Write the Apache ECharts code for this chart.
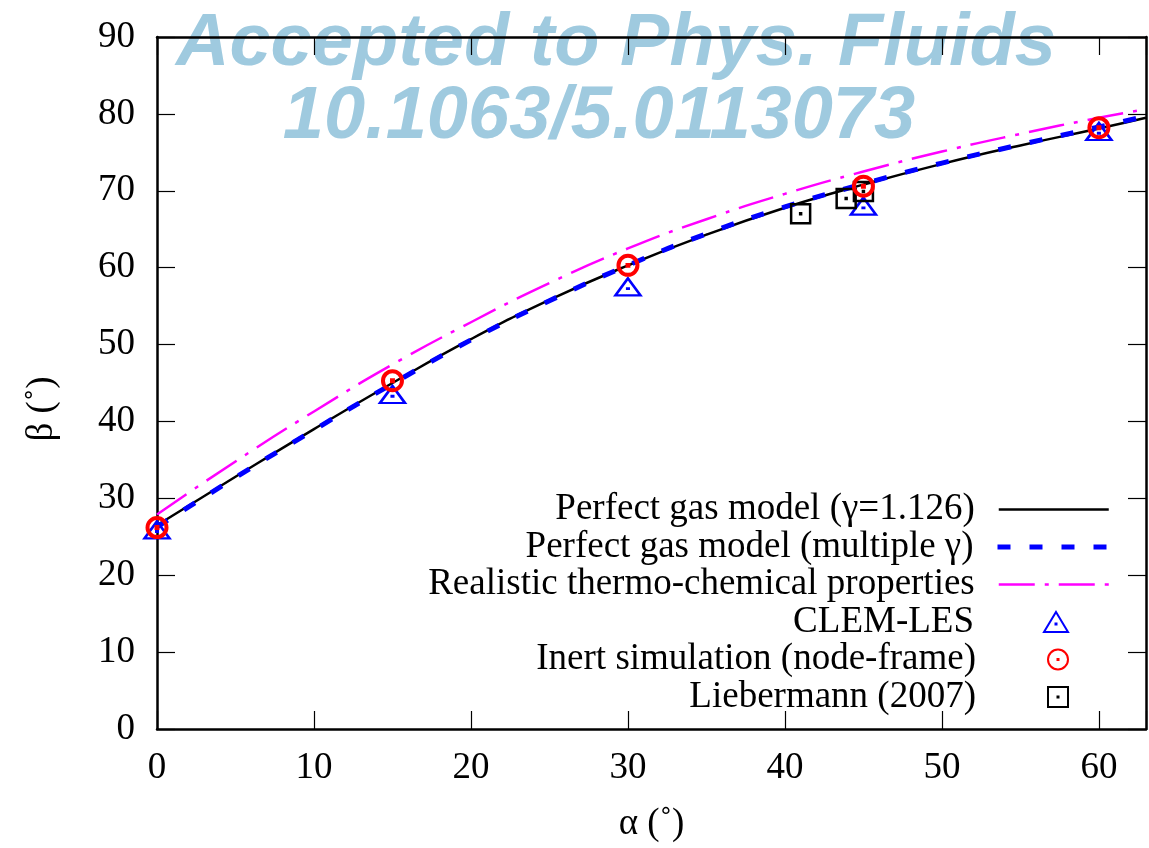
<!DOCTYPE html>
<html><head><meta charset="utf-8">
<script src="https://cdn.jsdelivr.net/npm/echarts@6/dist/echarts.min.js"></script>
<style>html,body{margin:0;padding:0;background:#fff}#c{width:1149px;height:848px}</style>
</head><body><div id="c"></div>
<script>
// ---- data ----
const curveAlpha = [0, 5, 10, 15, 20, 25, 30, 35, 40, 45, 50, 55, 60, 63];
const betaPerfectGamma = [26.5, 32.8, 39.0, 45.0, 50.7, 55.8, 60.3, 64.3, 67.8, 70.8, 73.5, 75.9, 78.1, 79.5];
const betaMultipleGamma = [26.3, 32.7, 38.9, 44.9, 50.6, 55.7, 60.3, 64.4, 67.9, 70.9, 73.6, 76.0, 78.3, 79.7];
const betaRealistic = [27.9, 34.8, 41.3, 47.4, 52.9, 58.0, 62.5, 66.3, 69.6, 72.5, 75.1, 77.4, 79.5, 80.6];
const simAlpha = [0, 15, 30, 45, 60];
const clemBeta = [25.9, 43.5, 57.5, 68.0, 77.7];
const inertBeta = [26.2, 45.3, 60.3, 70.6, 78.2];
const liebAlpha = [41, 43.9, 45];
const liebBeta = [67.0, 69.0, 69.9];
const seriesNames = ['Perfect gas model (\u03b3=1.126)', 'Perfect gas model (multiple \u03b3)',
  'Realistic thermo-chemical properties', 'CLEM-LES', 'Inert simulation (node-frame)', 'Liebermann (2007)'];
const xTitle = '\u03b1 (\u02da)';
const yTitle = '\u03b2 (\u02da)';
const watermark = ['Accepted to Phys. Fluids', '10.1063/5.0113073'];

// ---- helpers ----
const zip = (xs, ys) => xs.map((x, i) => [x, ys[i]]);
const serif = 'Liberation Serif';
const FS = 37;
const triPath = 'path://M12 0 L24 20 L0 20 Z M11.5 11.5 L12.5 11.5 L12.5 12.5 L11.5 12.5 Z';
const circPath = 'path://M10 0 A10 10 0 1 1 9.99 0 Z M9.5 9.5 L10.5 9.5 L10.5 10.5 L9.5 10.5 Z';
const sqPath = 'path://M0 0 L20 0 L20 20 L0 20 Z M9.5 9.5 L10.5 9.5 L10.5 10.5 L9.5 10.5 Z';

const lineStyles = [
  { color: '#000', width: 2.5, type: 'solid' },
  { color: '#0000ff', width: 5, type: [13, 19] },
  { color: '#ff00ff', width: 2.5, type: [36, 10, 4, 10] }
];

const rowCenters = [509, 546.5, 584, 621.5, 659, 696.5];
const legends = seriesNames.map((n, i) => {
  const isLine = i < 3;
  const lg = {
    data: [n], orient: 'vertical', align: 'right', padding: 0,
    right: isLine ? 39 : 80,
    top: rowCenters[i] - 18,
    itemWidth: isLine ? 110 : 28,
    itemHeight: isLine ? 14 : 20,
    selectedMode: false,
    textStyle: { fontFamily: serif, fontSize: FS, color: '#000', lineHeight: 36,
      padding: [0, isLine ? 19 : 63, 0, 0] }
  };
  if (isLine) {
    lg.itemStyle = { color: 'rgba(0,0,0,0)', borderWidth: 0, opacity: 0 };
    lg.lineStyle = { color: lineStyles[i].color, width: lineStyles[i].width, type: lineStyles[i].type, opacity: 1 };
  }
  return lg;
});

const tickStyle = { show: true, inside: true, length: 18, lineStyle: { color: '#000', width: 1.2 } };
const lineStyleAxis = { show: true, onZero: false, lineStyle: { color: '#000', width: 2.5 } };
const labelStyle = { fontFamily: serif, fontSize: FS, color: '#000' };
const wmFont = 'italic bold 74px "Liberation Sans"';

const chart = echarts.init(document.getElementById('c'), null, { renderer: 'canvas' });
chart.setOption({
  animation: false,
  backgroundColor: '#fff',
  grid: { left: 157, top: 37, right: -5, bottom: 118, containLabel: false },
  graphic: [
    { type: 'text', z: -10, style: { text: watermark[0], x: 616, y: 8, align: 'center', font: wmFont, fill: '#9fcadf' } },
    { type: 'text', z: -10, style: { text: watermark[1], x: 599, y: 81, align: 'center', font: wmFont, fill: '#9fcadf' } }
  ],
  legend: legends,
  xAxis: [
    { type: 'value', min: 0, max: 63, interval: 10, position: 'bottom',
      axisLine: lineStyleAxis, axisTick: tickStyle, splitLine: { show: false },
      axisLabel: Object.assign({ margin: 21, formatter: v => (v % 10 === 0 ? String(v) : '') }, labelStyle),
      name: xTitle, nameLocation: 'middle', nameGap: 77, nameTextStyle: labelStyle },
    { type: 'value', min: 0, max: 63, interval: 10, position: 'top',
      axisLine: lineStyleAxis, axisTick: tickStyle, splitLine: { show: false }, axisLabel: { show: false } }
  ],
  yAxis: [
    { type: 'value', min: 0, max: 90, interval: 10, position: 'left',
      axisLine: lineStyleAxis, axisTick: tickStyle, splitLine: { show: false },
      axisLabel: Object.assign({ margin: 22 }, labelStyle),
      name: yTitle, nameLocation: 'middle', nameGap: 96,
      nameTextStyle: Object.assign({ padding: [0, 52, 0, 0] }, labelStyle) },
    { type: 'value', min: 0, max: 90, interval: 10, position: 'right',
      axisLine: lineStyleAxis, axisTick: tickStyle, splitLine: { show: false }, axisLabel: { show: false } }
  ],
  series: [
    { name: seriesNames[0], type: 'line', data: zip(curveAlpha, betaPerfectGamma), smooth: 0.5,
      showSymbol: false, symbol: 'none', lineStyle: lineStyles[0], itemStyle: { color: '#000' }, z: 3 },
    { name: seriesNames[1], type: 'line', data: zip(curveAlpha, betaMultipleGamma), smooth: 0.5,
      showSymbol: false, symbol: 'none', lineStyle: lineStyles[1], itemStyle: { color: '#0000ff' }, z: 4 },
    { name: seriesNames[2], type: 'line', data: zip(curveAlpha, betaRealistic), smooth: 0.5,
      showSymbol: false, symbol: 'none', lineStyle: lineStyles[2], itemStyle: { color: '#ff00ff' }, z: 3 },
    { name: seriesNames[3], type: 'scatter', data: zip(simAlpha, clemBeta), symbol: triPath, symbolSize: [25, 17],
      itemStyle: { color: 'rgba(0,0,0,0)', borderColor: '#0000ff', borderWidth: 2.5, opacity: 1 }, z: 5 },
    { name: seriesNames[4], type: 'scatter', data: zip(simAlpha, inertBeta), symbol: circPath, symbolSize: 19,
      itemStyle: { color: 'rgba(0,0,0,0)', borderColor: '#ff0000', borderWidth: 4, opacity: 1 }, z: 6 },
    { name: seriesNames[5], type: 'scatter', data: zip(liebAlpha, liebBeta), symbol: sqPath, symbolSize: 19,
      itemStyle: { color: 'rgba(0,0,0,0)', borderColor: '#000', borderWidth: 2.5, opacity: 1 }, z: 5 }
  ]
});
</script></body></html>
